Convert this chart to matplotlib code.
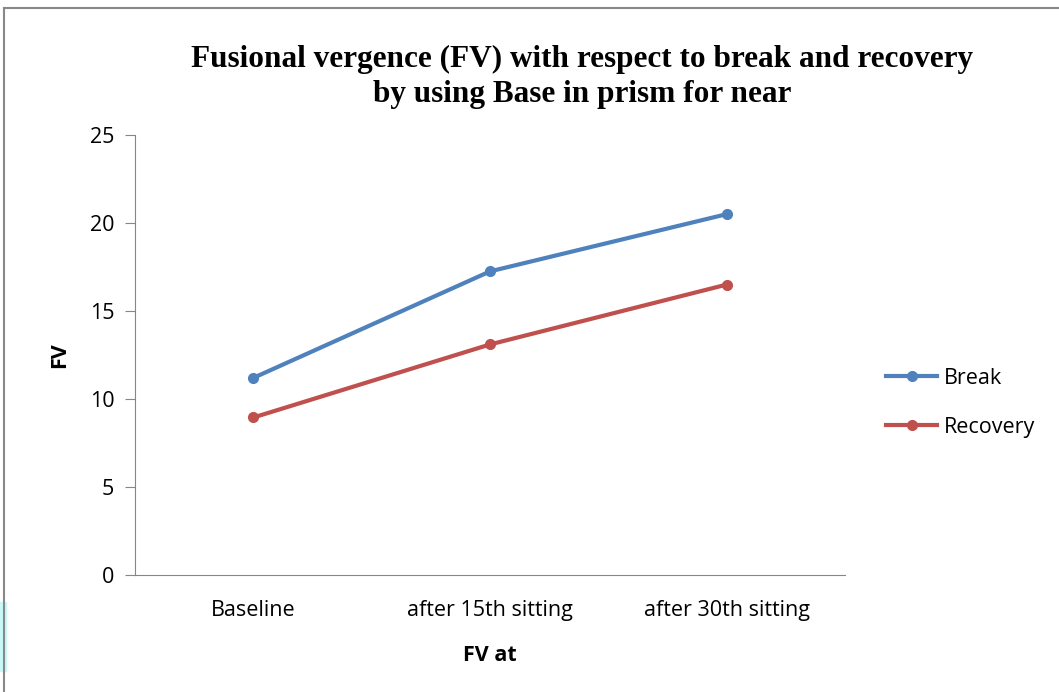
import matplotlib.pyplot as plt
from matplotlib.patches import Rectangle
from matplotlib.lines import Line2D

categories = ['Baseline', 'after 15th sitting', 'after 30th sitting']
break_fv = [11.2, 17.25, 20.5]
recovery_fv = [8.95, 13.1, 16.5]

plt.rcParams['font.family'] = ['Open Sans', 'DejaVu Sans']

fig = plt.figure(figsize=(10.59, 6.92), dpi=100)
ax = fig.add_axes([0.1275, 0.169, 0.6705, 0.636])

x = range(len(categories))
ax.plot(x, break_fv, color='#4F81BD', lw=3, marker='o', ms=7, label='Break')
ax.plot(x, recovery_fv, color='#C0504D', lw=3, marker='o', ms=7, label='Recovery')

ax.set_xlim(-0.5, 2.5)
ax.set_ylim(0, 25)
ax.set_yticks([0, 5, 10, 15, 20, 25])
ax.set_xticks(list(x))
ax.set_xticklabels(categories)
ax.tick_params(axis='y', length=7, color='#868686', labelsize=15.5, pad=8)
ax.tick_params(axis='x', length=0, labelsize=15.5, pad=18)
for s in ['top', 'right']:
    ax.spines[s].set_visible(False)
ax.spines['left'].set_color('#868686')
ax.spines['bottom'].set_color('#868686')

ax.set_ylabel('FV', fontsize=15.5, fontweight='bold', labelpad=14)
ax.set_xlabel('FV at', fontsize=15.5, fontweight='bold', labelpad=17)

fig.text(0.550, 0.889, 'Fusional vergence (FV) with respect to break and recovery\nby using Base in prism for near',
         ha='center', va='center', fontsize=22.5, fontweight='bold',
         family='Liberation Serif', linespacing=1.3)

ax.legend(loc='center left', bbox_to_anchor=(1.03, 0.392), frameon=False,
          fontsize=15.5, handlelength=2.4, labelspacing=1.3, handletextpad=0.3)

# outer border and small cyan strip
fig.add_artist(Line2D([0.004, 0.004], [0, 0.988], color='#888888', lw=1.5, transform=fig.transFigure))
fig.add_artist(Line2D([0.004, 1], [0.988, 0.988], color='#888888', lw=1.5, transform=fig.transFigure))
fig.add_artist(Rectangle((0, 0.03), 0.006, 0.1, color='#c8f8f8', transform=fig.transFigure))

fig.savefig('out.png', dpi=100)
